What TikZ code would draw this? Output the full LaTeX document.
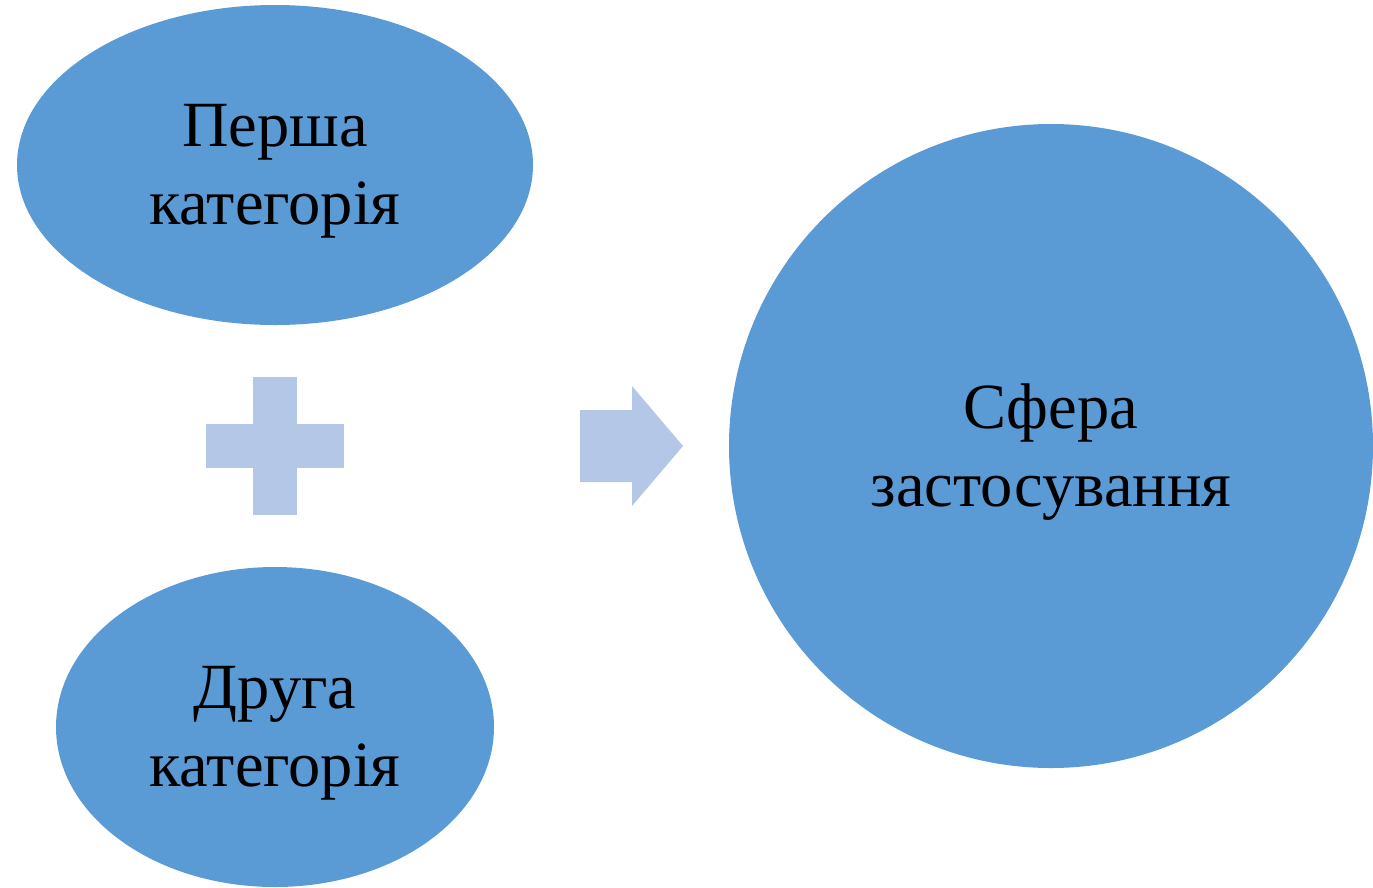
\documentclass[tikz,border=0pt]{standalone}
\usepackage{fontspec}
\setmainfont{Liberation Serif}
\definecolor{bubble}{HTML}{5B9BD5}
\definecolor{sign}{HTML}{B4C7E7}
\begin{document}
\begin{tikzpicture}[x=0.02cm, y=-0.02cm, line join=round,
	label/.style={align=center, text=black, yshift=-3.5pt, font=\fontsize{36.7}{44}\selectfont}]
	\useasboundingbox (0,0) rectangle (1373,887);
	\path
	(275,165) coordinate (P)
	(275,727) coordinate (D)
	(1051,446) coordinate (S)
	;
	\fill[bubble] (P) circle[x radius=258, y radius=160];
	\fill[bubble] (D) circle[x radius=219, y radius=160];
	\fill[bubble] (S) circle[radius=322];
	% plus
	\fill[sign] (253,377) rectangle (297,515);
	\fill[sign] (206,424) rectangle (344,468);
	% arrow
	\fill[sign] (580,410) -- (632,410) -- (632,386) -- (683,446) -- (632,506) -- (632,482) -- (580,482) -- cycle;
	\node[label] (persha) at (P) {Перша\\категорія};
	\node[label] (druha) at (D) {Друга\\категорія};
	\node[label] (sfera) at (S) {Сфера\\застосування};
\end{tikzpicture}
\end{document}
